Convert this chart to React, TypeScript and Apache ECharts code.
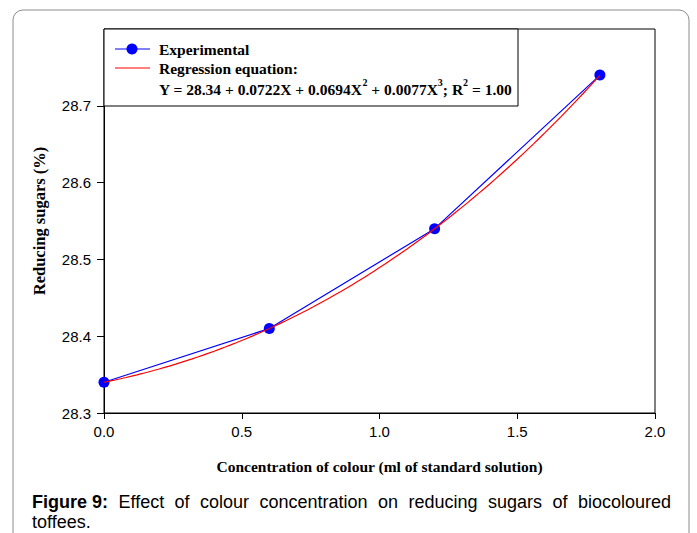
import React, { useEffect, useRef } from "react";
import * as echarts from "echarts";

// Measured concentrations (ml of standard solution) and reducing sugars (%)
const concentration = [0, 0.6, 1.2, 1.8];
const reducingSugars = [28.34, 28.41, 28.54, 28.74];

// Cubic regression coefficients: Y = c0 + c1 X + c2 X^2 + c3 X^3
const regressionCoefficients = [28.34, 0.0722, 0.0694, 0.0077];

const xTicks = [0, 0.5, 1.0, 1.5, 2.0];
const yTicks = [28.3, 28.4, 28.5, 28.6, 28.7];

const captionLead = "Figure 9:";
const captionLine1 = "Effect of colour concentration on reducing sugars of biocoloured";
const captionLine2 = "toffees.";

const regression = (x: number) =>
  regressionCoefficients.reduce((s, c, i) => s + c * Math.pow(x, i), 0);

export default function App() {
  const ref = useRef<HTMLDivElement>(null);

  useEffect(() => {
    document.body.style.margin = "0";
    if (!ref.current) return;
    const chart = echarts.init(ref.current, null, { renderer: "svg" });

    const xEnd = concentration[concentration.length - 1];
    const curve: number[][] = [];
    for (let i = 0; i <= 90; i++) {
      const x = (xEnd * i) / 90;
      curve.push([x, regression(x)]);
    }

    const serif = "'Liberation Serif', 'Times New Roman', serif";
    const sans = "'Liberation Sans', Arial, sans-serif";
    const titleSize = 15.5;
    const captionSize = 18;

    // Justified first caption line between the frame margins
    const ctx = document.createElement("canvas").getContext("2d")!;
    const words = [
      { text: captionLead, bold: true },
      ...captionLine1.split(" ").map((t) => ({ text: t, bold: false })),
    ];
    const widths = words.map((w) => {
      ctx.font = `${w.bold ? "bold " : ""}${captionSize}px ${sans}`;
      return ctx.measureText(w.text).width;
    });
    const lineLeft = 32;
    const lineRight = 671;
    const gap =
      (lineRight - lineLeft - widths.reduce((a, b) => a + b, 0)) / (words.length - 1);
    let cursor = lineLeft;
    const captionItems = words.map((w, i) => {
      const item = {
        type: "text",
        x: cursor,
        y: 502,
        style: {
          text: w.text,
          font: `${w.bold ? "bold " : ""}${captionSize}px ${sans}`,
          fill: "#000",
          verticalAlign: "middle",
        },
      };
      cursor += widths[i] + gap;
      return item;
    });

    chart.setOption({
      animation: false,
      backgroundColor: "#ffffff",
      grid: {
        left: 104,
        right: 42,
        top: 29,
        bottom: 120,
        show: true,
        borderColor: "#000",
        borderWidth: 1,
        backgroundColor: "transparent",
      },
      xAxis: {
        type: "value",
        min: 0,
        max: 2,
        interval: 0.5,
        name: "Concentration of colour (ml of standard solution)",
        nameLocation: "middle",
        nameGap: 45,
        nameTextStyle: { fontFamily: serif, fontWeight: "bold", fontSize: titleSize, color: "#000" },
        axisLine: { show: true, lineStyle: { color: "#000", width: 1 } },
        axisTick: { show: true, length: 6, lineStyle: { color: "#000" }, customValues: xTicks },
        axisLabel: {
          customValues: xTicks,
          formatter: (v: number) => v.toFixed(1),
          fontFamily: sans,
          fontSize: 15,
          color: "#000",
          margin: 11,
        },
        splitLine: { show: false },
      },
      yAxis: {
        type: "value",
        min: 28.3,
        max: 28.8,
        interval: 0.1,
        name: "Reducing sugars (%)",
        nameLocation: "middle",
        nameGap: 56,
        nameRotate: 90,
        nameTextStyle: { fontFamily: serif, fontWeight: "bold", fontSize: 16.5, color: "#000" },
        axisLine: { show: true, lineStyle: { color: "#000", width: 1 } },
        axisTick: { show: true, length: 7, lineStyle: { color: "#000" }, customValues: yTicks },
        axisLabel: {
          customValues: yTicks,
          formatter: (v: number) => v.toFixed(1),
          fontFamily: sans,
          fontSize: 15,
          color: "#000",
          margin: 13,
        },
        splitLine: { show: false },
      },
      series: [
        {
          name: "Experimental",
          type: "line",
          data: concentration.map((x, i) => [x, reducingSugars[i]]),
          lineStyle: { color: "#0000ff", width: 1.2 },
          itemStyle: { color: "#0000ff" },
          symbol: "circle",
          symbolSize: 11,
          z: 2,
        },
        {
          name: "Regression",
          type: "line",
          data: curve,
          showSymbol: false,
          lineStyle: { color: "#ff0000", width: 1.2 },
          z: 3,
        },
      ],
      graphic: [
        // Figure frame
        {
          type: "rect",
          shape: { x: 13, y: 10, width: 676, height: 560, r: 10 },
          style: { fill: "none", stroke: "#8c8c8c", lineWidth: 1 },
          silent: true,
        },
        // Legend box
        {
          type: "rect",
          shape: { x: 104, y: 29, width: 414, height: 77 },
          style: { fill: "#fff", stroke: "#000", lineWidth: 1 },
          z: 10,
        },
        {
          type: "line",
          shape: { x1: 115, y1: 49, x2: 150, y2: 49 },
          style: { stroke: "#0000ff", lineWidth: 1.2 },
          z: 11,
        },
        {
          type: "circle",
          shape: { cx: 132, cy: 49, r: 5.5 },
          style: { fill: "#0000ff" },
          z: 11,
        },
        {
          type: "line",
          shape: { x1: 115, y1: 68, x2: 150, y2: 68 },
          style: { stroke: "#ff0000", lineWidth: 1.2 },
          z: 11,
        },
        {
          type: "text",
          x: 159,
          y: 49,
          style: {
            text: "Experimental",
            font: `bold ${titleSize}px ${serif}`,
            fill: "#000",
            verticalAlign: "middle",
          },
          z: 11,
        },
        {
          type: "text",
          x: 159,
          y: 68,
          style: {
            text: "Regression equation:",
            font: `bold ${titleSize}px ${serif}`,
            fill: "#000",
            verticalAlign: "middle",
          },
          z: 11,
        },
        {
          type: "text",
          x: 159,
          y: 87,
          style: {
            text: "{b|Y = 28.34 + 0.0722X + 0.0694X}{s|2}{b| + 0.0077X}{s|3}{b|; R}{s|2}{b| = 1.00}",
            verticalAlign: "middle",
            rich: {
              b: { fontFamily: serif, fontWeight: "bold", fontSize: titleSize, fill: "#000", lineHeight: 20, verticalAlign: "bottom" },
              s: { fontFamily: serif, fontWeight: "bold", fontSize: 10, fill: "#000", lineHeight: 20, verticalAlign: "top" },
            },
          },
          z: 11,
        },
        // Caption
        ...captionItems,
        {
          type: "text",
          x: lineLeft,
          y: 522,
          style: {
            text: captionLine2,
            font: `${captionSize}px ${sans}`,
            fill: "#000",
            verticalAlign: "middle",
          },
        },
      ],
    });

    return () => chart.dispose();
  }, []);

  return <div ref={ref} style={{ width: 697, height: 533 }} />;
}
